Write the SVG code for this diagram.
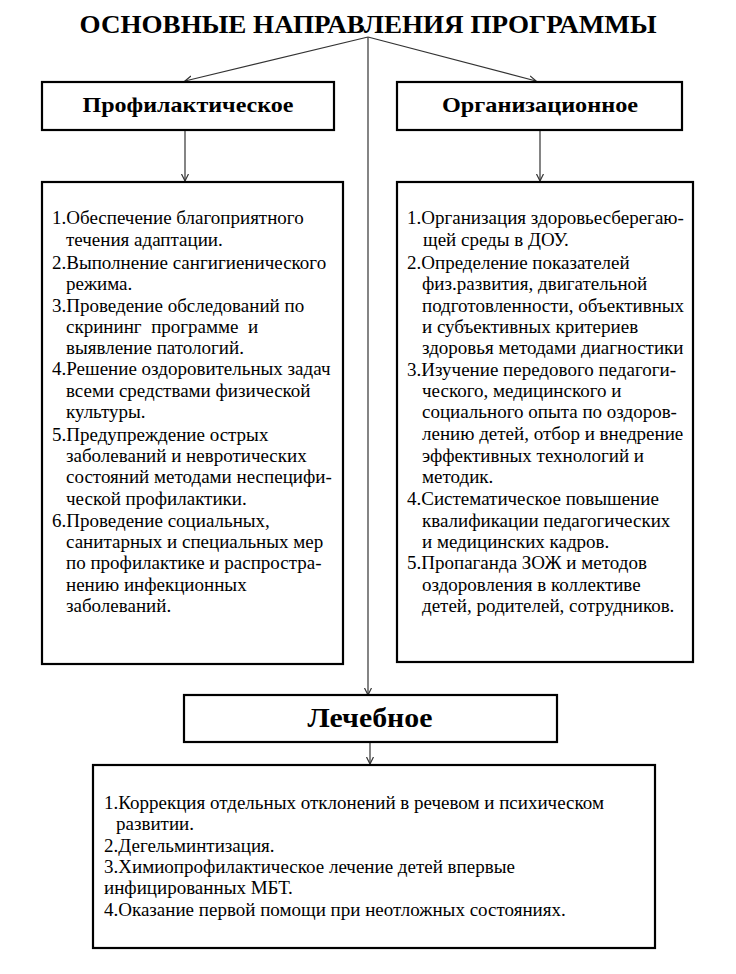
<svg xmlns="http://www.w3.org/2000/svg" width="736" height="974" viewBox="0 0 736 974">
<defs>
<marker id="arr" markerUnits="userSpaceOnUse" markerWidth="10" markerHeight="10" refX="7" refY="4" orient="auto">
<path d="M0,0.5 L7,4 L0,7.5" fill="none" stroke="#333" stroke-width="1.2"/>
</marker>
</defs>
<rect width="736" height="974" fill="#fff"/>
<text id="title" x="368" y="33" font-family="Liberation Serif" font-weight="bold" text-anchor="middle" font-size="26" textLength="577" lengthAdjust="spacingAndGlyphs">ОСНОВНЫЕ НАПРАВЛЕНИЯ ПРОГРАММЫ</text>
<g id="connectors" stroke="#333" stroke-width="1.2" fill="none">
<line x1="368" y1="37" x2="185" y2="81" marker-end="url(#arr)"/>
<line x1="368" y1="37" x2="536" y2="81" marker-end="url(#arr)"/>
<line x1="368" y1="37" x2="368" y2="695" marker-end="url(#arr)"/>
<line x1="185" y1="130" x2="185" y2="181" marker-end="url(#arr)"/>
<line x1="540" y1="130" x2="540" y2="181" marker-end="url(#arr)"/>
<line x1="370" y1="742" x2="370" y2="764" marker-end="url(#arr)"/>
</g>
<g id="prof-head">
<rect x="42" y="82" width="292" height="48" fill="#fff" stroke="#000" stroke-width="2.2"/>
<text x="188" y="112" font-family="Liberation Serif" font-weight="bold" text-anchor="middle" font-size="22" textLength="211" lengthAdjust="spacingAndGlyphs">Профилактическое</text>
</g>
<g id="org-head">
<rect x="397" y="82" width="285" height="48" fill="#fff" stroke="#000" stroke-width="2.2"/>
<text x="540" y="112" font-family="Liberation Serif" font-weight="bold" text-anchor="middle" font-size="22" textLength="196" lengthAdjust="spacingAndGlyphs">Организационное</text>
</g>
<g id="prof-list">
<rect x="42" y="182" width="301" height="482" fill="#fff" stroke="#000" stroke-width="2.2"/>
<text font-family="Liberation Serif" font-size="19" x="52" y="224">1.Обеспечение благоприятного</text>
<text font-family="Liberation Serif" font-size="19" x="66" y="246">течения адаптации.</text>
<text font-family="Liberation Serif" font-size="19" x="52" y="269">2.Выполнение сангигиенического</text>
<text font-family="Liberation Serif" font-size="19" x="66" y="290">режима.</text>
<text font-family="Liberation Serif" font-size="19" x="52" y="312">3.Проведение обследований по</text>
<text font-family="Liberation Serif" font-size="19" x="66" y="333" xml:space="preserve">скрининг  программе  и</text>
<text font-family="Liberation Serif" font-size="19" x="66" y="354">выявление патологий.</text>
<text font-family="Liberation Serif" font-size="19" x="52" y="375">4.Решение оздоровительных задач</text>
<text font-family="Liberation Serif" font-size="19" x="66" y="397">всеми средствами физической</text>
<text font-family="Liberation Serif" font-size="19" x="66" y="418">культуры.</text>
<text font-family="Liberation Serif" font-size="19" x="52" y="441">5.Предупреждение острых</text>
<text font-family="Liberation Serif" font-size="19" x="66" y="462">заболеваний и невротических</text>
<text font-family="Liberation Serif" font-size="19" x="66" y="483">состояний методами неспецифи-</text>
<text font-family="Liberation Serif" font-size="19" x="66" y="505">ческой профилактики.</text>
<text font-family="Liberation Serif" font-size="19" x="52" y="527">6.Проведение социальных,</text>
<text font-family="Liberation Serif" font-size="19" x="66" y="548">санитарных и специальных мер</text>
<text font-family="Liberation Serif" font-size="19" x="66" y="569">по профилактике и распростра-</text>
<text font-family="Liberation Serif" font-size="19" x="66" y="591">нению инфекционных</text>
<text font-family="Liberation Serif" font-size="19" x="66" y="612">заболеваний.</text>
</g>
<g id="org-list">
<rect x="397" y="182" width="296" height="480" fill="#fff" stroke="#000" stroke-width="2.2"/>
<text font-family="Liberation Serif" font-size="19" x="407" y="224">1.Организация здоровьесберегаю-</text>
<text font-family="Liberation Serif" font-size="19" x="423" y="246">щей среды в ДОУ.</text>
<text font-family="Liberation Serif" font-size="19" x="407" y="269">2.Определение показателей</text>
<text font-family="Liberation Serif" font-size="19" x="422" y="290">физ.развития, двигательной</text>
<text font-family="Liberation Serif" font-size="19" x="422" y="312">подготовленности, объективных</text>
<text font-family="Liberation Serif" font-size="19" x="422" y="333">и субъективных критериев</text>
<text font-family="Liberation Serif" font-size="19" x="422" y="354">здоровья методами диагностики</text>
<text font-family="Liberation Serif" font-size="19" x="407" y="376">3.Изучение передового педагоги-</text>
<text font-family="Liberation Serif" font-size="19" x="422" y="397">ческого, медицинского и</text>
<text font-family="Liberation Serif" font-size="19" x="422" y="418">социального опыта по оздоров-</text>
<text font-family="Liberation Serif" font-size="19" x="422" y="440">лению детей, отбор и внедрение</text>
<text font-family="Liberation Serif" font-size="19" x="422" y="462">эффективных технологий и</text>
<text font-family="Liberation Serif" font-size="19" x="422" y="483">методик.</text>
<text font-family="Liberation Serif" font-size="19" x="407" y="505">4.Систематическое повышение</text>
<text font-family="Liberation Serif" font-size="19" x="422" y="527">квалификации педагогических</text>
<text font-family="Liberation Serif" font-size="19" x="422" y="548">и медицинских кадров.</text>
<text font-family="Liberation Serif" font-size="19" x="407" y="569">5.Пропаганда ЗОЖ и методов</text>
<text font-family="Liberation Serif" font-size="19" x="422" y="591">оздоровления в коллективе</text>
<text font-family="Liberation Serif" font-size="19" x="422" y="612">детей, родителей, сотрудников.</text>
</g>
<g id="lech-head">
<rect x="184" y="695" width="373" height="47" fill="#fff" stroke="#000" stroke-width="2.2"/>
<text x="370" y="727" font-family="Liberation Serif" font-weight="bold" text-anchor="middle" font-size="28" textLength="125" lengthAdjust="spacingAndGlyphs">Лечебное</text>
</g>
<g id="lech-list">
<rect x="93" y="765" width="562" height="183" fill="#fff" stroke="#000" stroke-width="2.2"/>
<text font-family="Liberation Serif" font-size="19" x="104" y="809">1.Коррекция отдельных отклонений в речевом и психическом</text>
<text font-family="Liberation Serif" font-size="19" x="116" y="830">развитии.</text>
<text font-family="Liberation Serif" font-size="19" x="104" y="852">2.Дегельминтизация.</text>
<text font-family="Liberation Serif" font-size="19" x="104" y="873">3.Химиопрофилактическое лечение детей впервые</text>
<text font-family="Liberation Serif" font-size="19" x="104" y="894">инфицированных МБТ.</text>
<text font-family="Liberation Serif" font-size="19" x="104" y="916">4.Оказание первой помощи при неотложных состояниях.</text>
</g>
</svg>
